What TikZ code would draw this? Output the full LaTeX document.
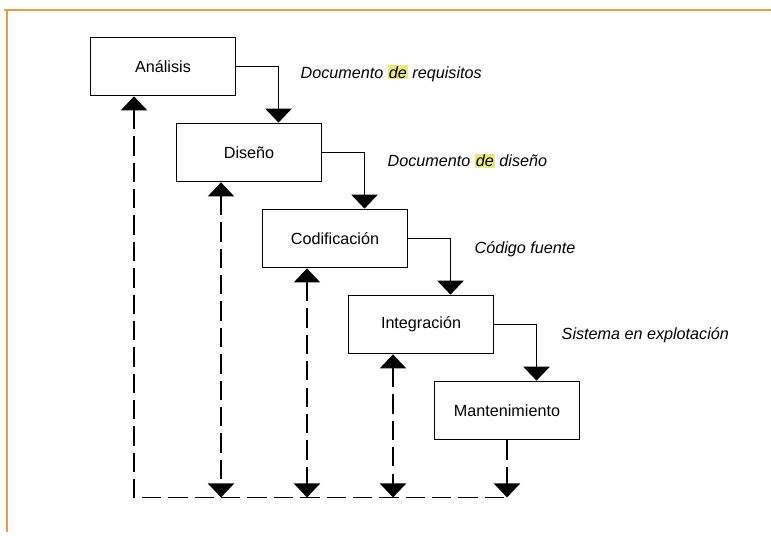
\documentclass[tikz,border=0pt]{standalone}
\usepackage{fontspec}
\setmainfont{Liberation Sans}
\usepackage{xcolor}
\usepackage{tikz}
\usetikzlibrary{positioning, arrows.meta}

\definecolor{marco}{RGB}{247,150,70}
\definecolor{resalte}{RGB}{234,234,120}
\newcommand{\resaltar}[1]{{\setlength{\fboxsep}{0.6pt}\colorbox{resalte}{#1}}}

\begin{document}
\begin{tikzpicture}[>={Triangle[width=15pt,length=8pt]}, node distance=0.525cm,
        fase/.style={draw, line width=1pt, minimum width=2.9cm, minimum height=1.16cm, font=\fontsize{9.2}{11}\selectfont},
        flow/.style={->, line width=0.9pt},
        feedback/.style={line width=0.9pt, dash pattern=on 11pt off 4pt},
        doc/.style={inner sep=0pt, font=\fontsize{9.2}{11}\selectfont\itshape}]
    \useasboundingbox (0,0) rectangle (15.42,-10.7);
    \draw[marco, line width=1.1pt] (0.08,-0.2) -- (15.42,-0.2);
    \draw[marco, line width=1.1pt] (0.14,-0.2) -- (0.14,-10.64);

    \node[fase] (analisis) at (3.26,-1.33) {Análisis};
    \node[fase, below=of analisis, xshift=1.72cm] (diseno) {Diseño};
    \node[fase, below=of diseno, xshift=1.72cm] (codif) {Codificación};
    \node[fase, below=of codif, xshift=1.72cm] (integr) {Integración};
    \node[fase, below=of integr, xshift=1.72cm] (mant) {Mantenimiento};

    \draw[flow] (analisis.east) -| ([xshift=0.59cm]diseno.north);
    \draw[flow] (diseno.east) -| ([xshift=0.59cm]codif.north);
    \draw[flow] (codif.east) -| ([xshift=0.59cm]integr.north);
    \draw[flow] (integr.east) -| ([xshift=0.59cm]mant.north);

    \node[doc, right=1.28cm of analisis.east, yshift=-0.14cm] (req) {Documento \resaltar{de} requisitos};
    \node[doc, right=1.3cm of diseno.east, yshift=-0.16cm] (dis) {Documento \resaltar{de} diseño};
    \node[doc, right=1.32cm of codif.east, yshift=-0.21cm] (fuente) {Código fuente};
    \node[doc, right=1.34cm of integr.east, yshift=-0.22cm] (explot) {Sistema en explotación};

    % realimentacion
    \coordinate[below=1.14cm of mant.south] (base);
    \draw[feedback, <-] ([xshift=-0.58cm]analisis.south) |- (base);
    \draw[feedback, ->] (mant.south) -- (base);
    \foreach \n in {diseno, codif, integr}
        \draw[feedback, <->] ([xshift=-0.56cm]\n.south) -- ([xshift=-0.56cm]\n.south |- base);
\end{tikzpicture}
\end{document}
